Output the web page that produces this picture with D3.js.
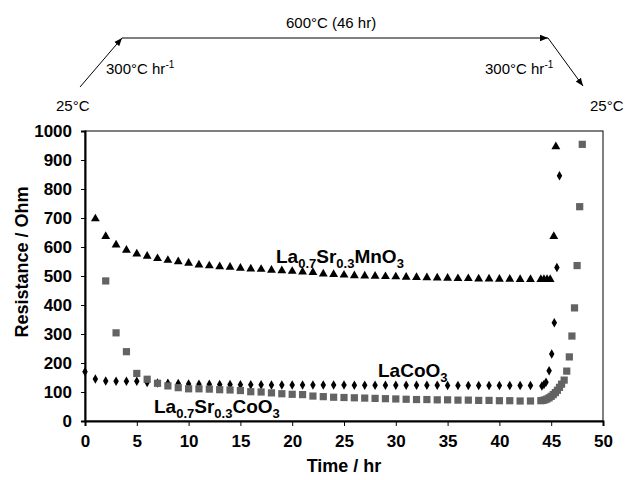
<!DOCTYPE html>
<html>
<head>
<meta charset="utf-8">
<script src="https://cdn.jsdelivr.net/npm/d3@7"></script>
<style>
  body { margin: 0; background: #fff; }
  svg text { font-family: "Liberation Sans", Arial, sans-serif; }
</style>
</head>
<body>
<div id="chart"></div>
<script>
// La0.7Sr0.3MnO3 (triangles)
var mnTime = [1, 2, 3, 4, 5, 6, 7, 8, 9, 10, 11, 12, 13, 14, 15, 16, 17, 18, 19, 20, 21, 22,
  23, 24, 25, 26, 27, 28, 29, 30, 31, 32, 33, 34, 35, 36, 37, 38, 39, 40, 41, 42, 43,
  44, 44.3, 44.6, 44.9, 45.25, 45.45];
var mnRes = [699, 638, 609, 591, 578, 570, 562, 556, 551, 546, 540, 537, 534, 532, 529, 526, 525, 522, 520, 518, 516, 514,
  509, 507, 505, 503, 502, 501, 500, 499, 498, 497, 496, 495, 494, 493, 493, 492, 492, 491, 491, 490, 490,
  490, 490, 490, 490, 638, 948];

// LaCoO3 (diamonds)
var coTime = [0, 1, 2, 3, 4, 5, 6, 7, 8, 9, 10, 11, 12, 13, 14, 15, 16, 17, 18, 19, 20, 21, 22,
  23, 24, 25, 26, 27, 28, 29, 30, 31, 32, 33, 34, 35, 36, 37, 38, 39, 40, 41, 42, 43,
  44.1, 44.3, 44.5, 44.8, 45.05, 45.3, 45.55, 45.8];
var coRes = [170, 145, 138, 137, 137, 137, 133, 131, 130, 129, 128, 127, 127, 126, 126, 125, 125, 125, 124, 124, 124, 124, 124,
  124, 124, 124, 123, 123, 123, 123, 123, 123, 123, 123, 123, 122, 122, 122, 122, 122, 122, 122, 122, 122,
  121, 126, 134, 173, 231, 339, 529, 846];

// La0.7Sr0.3CoO3 (squares)
var lscTime = [2, 3, 4, 5, 6, 7, 8, 9, 10, 11, 12, 13, 14, 15, 16, 17, 18, 19, 20, 21, 22,
  23, 24, 25, 26, 27, 28, 29, 30, 31, 32, 33, 34, 35, 36, 37, 38, 39, 40, 41, 42, 43,
  44, 44.2, 44.4, 44.6, 44.8, 45, 45.2, 45.4, 45.6, 45.8, 46, 46.25, 46.5, 46.75, 47, 47.25, 47.5, 47.75, 48];
var lscRes = [483, 304, 239, 164, 144, 130, 121, 115, 111, 111, 110, 108, 107, 105, 101, 100, 97, 94, 92, 91, 86,
  84, 82, 81, 80, 79, 78, 77, 76, 75, 74, 74, 73, 73, 72, 72, 71, 71, 70, 70, 69, 69,
  70, 71, 73, 76, 80, 85, 91, 98, 106, 116, 127, 141, 172, 221, 293, 390, 536, 739, 954];

var xTicks = [0, 5, 10, 15, 20, 25, 30, 35, 40, 45, 50];
var yTicks = [0, 100, 200, 300, 400, 500, 600, 700, 800, 900, 1000];

var width = 625, height = 480;
var margin = {left: 85, right: 22, top: 131, bottom: 59};

var svg = d3.select("#chart").append("svg")
  .attr("width", width)
  .attr("height", height);

var x = d3.scaleLinear().domain([0, 50]).range([margin.left, width - margin.right]);
var y = d3.scaleLinear().domain([0, 1000]).range([height - margin.bottom, margin.top]);

// frame (top and right)
svg.append("rect")
  .attr("x", x(0)).attr("y", y(1000))
  .attr("width", x(50) - x(0)).attr("height", y(0) - y(1000))
  .attr("fill", "none").attr("stroke", "#000").attr("stroke-width", 1);

var xAxis = svg.append("g")
  .attr("transform", "translate(0," + y(0) + ")")
  .call(d3.axisBottom(x).tickValues(xTicks).tickSize(5).tickPadding(9));
var yAxis = svg.append("g")
  .attr("transform", "translate(" + x(0) + ",0)")
  .call(d3.axisLeft(y).tickValues(yTicks).tickFormat(d3.format("d")).tickSize(4).tickPadding(9));

[xAxis, yAxis].forEach(function(a) {
  a.select(".domain").attr("stroke-width", 2);
  a.selectAll("text")
    .style("font-family", '"Liberation Sans", Arial, sans-serif')
    .style("font-size", "17px")
    .style("font-weight", "bold")
    .attr("fill", "#000");
});

svg.append("text")
  .attr("x", (x(0) + x(50)) / 2).attr("y", 472)
  .attr("text-anchor", "middle")
  .style("font-size", "18px").style("font-weight", "bold")
  .text("Time / hr");

svg.append("text")
  .attr("transform", "translate(28,262) rotate(-90)")
  .attr("text-anchor", "middle")
  .style("font-size", "18px").style("font-weight", "bold")
  .text("Resistance / Ohm");

// markers
svg.append("g").selectAll("path")
  .data(mnTime.map(function(t, i) { return [t, mnRes[i]]; }))
  .enter().append("path")
  .attr("d", d3.symbol().type(d3.symbolTriangle).size(34))
  .attr("transform", function(d) { return "translate(" + x(d[0]) + "," + (y(d[1]) + 0.5) + ")"; })
  .attr("fill", "#000");

svg.append("g").selectAll("path")
  .data(coTime.map(function(t, i) { return [t, coRes[i]]; }))
  .enter().append("path")
  .attr("d", d3.symbol().type(d3.symbolDiamond).size(26))
  .attr("transform", function(d) { return "translate(" + x(d[0]) + "," + y(d[1]) + ")"; })
  .attr("fill", "#000");

svg.append("g").selectAll("path")
  .data(lscTime.map(function(t, i) { return [t, lscRes[i]]; }))
  .enter().append("path")
  .attr("d", d3.symbol().type(d3.symbolSquare).size(52))
  .attr("transform", function(d) { return "translate(" + x(d[0]) + "," + y(d[1]) + ")"; })
  .attr("fill", "#636363");

// series labels with subscripts
function chem(xp, yp, parts) {
  var t = svg.append("text").attr("x", xp).attr("y", yp)
    .style("font-size", "19px").style("font-weight", "bold");
  parts.forEach(function(p) {
    var s = t.append("tspan").text(p[0]);
    if (p[1]) s.attr("dy", 5).style("font-size", "13px");
    else s.attr("dy", p[2] ? -5 : 0);
  });
}
chem(276, 263, [["La"], ["0.7", 1], ["Sr", 0, 1], ["0.3", 1], ["MnO", 0, 1], ["3", 1]]);
chem(378, 377, [["LaCoO"], ["3", 1]]);
chem(154, 413, [["La"], ["0.7", 1], ["Sr", 0, 1], ["0.3", 1], ["CoO", 0, 1], ["3", 1]]);

// heating profile annotation
var defs = svg.append("defs");
defs.append("marker")
  .attr("id", "arr").attr("viewBox", "0 0 10 10")
  .attr("refX", 10).attr("refY", 5)
  .attr("markerWidth", 8).attr("markerHeight", 8)
  .attr("markerUnits", "userSpaceOnUse")
  .attr("orient", "auto")
  .append("path").attr("d", "M0,1 L10,5 L0,9 Z").attr("fill", "#000");

var profile = [[80, 87, 122, 38], [122, 38, 548, 38], [548, 38, 583, 86]];
svg.append("g").selectAll("line")
  .data(profile).enter().append("line")
  .attr("x1", function(d) { return d[0]; }).attr("y1", function(d) { return d[1]; })
  .attr("x2", function(d) { return d[2]; }).attr("y2", function(d) { return d[3]; })
  .attr("stroke", "#000").attr("stroke-width", 1)
  .attr("marker-end", "url(#arr)");

function note(xp, yp, txt, sup) {
  var t = svg.append("text").attr("x", xp).attr("y", yp).style("font-size", "15px");
  t.append("tspan").text(txt);
  if (sup) t.append("tspan").attr("dy", -6).style("font-size", "10px").text(sup);
  return t;
}
note(286, 28, "600\u00B0C (46 hr)");
note(106, 74, "300\u00B0C hr", "-1");
note(485, 74, "300\u00B0C hr", "-1");
note(56, 111, "25\u00B0C");
note(590, 111, "25\u00B0C");
</script>
</body>
</html>
